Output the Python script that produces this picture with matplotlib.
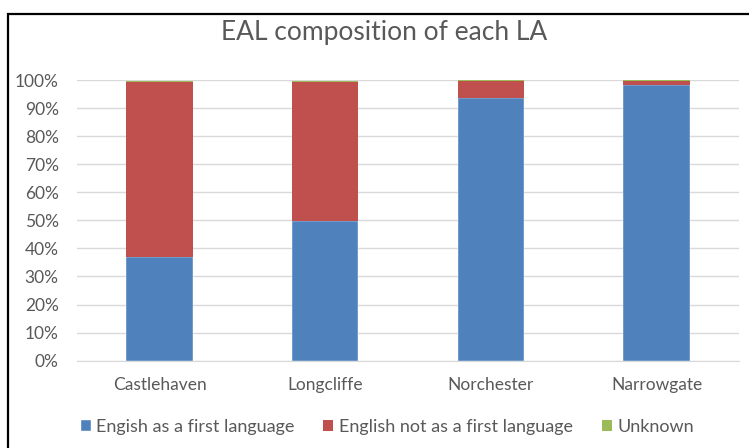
import numpy as np
import matplotlib
matplotlib.use('Agg')
from matplotlib import pyplot as plt
from matplotlib.patches import Rectangle

plt.rcParams['font.family'] = ['Lato', 'DejaVu Sans']

areas = ['Castlehaven', 'Longcliffe', 'Norchester', 'Narrowgate']
first_lang = [36.8, 49.8, 93.7, 98.1]
not_first = [62.5, 49.5, 5.9, 1.6]
unknown = [0.5, 0.5, 0.4, 0.3]
yticks = [0, 10, 20, 30, 40, 50, 60, 70, 80, 90, 100]

blue = '#4F81BD'
red = '#C0504D'
green = '#9BBB59'
grey = '#595959'

fig = plt.figure(figsize=(7.49, 4.48), dpi=100)
ax = fig.add_axes([0.1024, 0.1949, 0.8848, 0.6265])

x = np.arange(len(areas))
w = 0.4
b1 = ax.bar(x, first_lang, w, color=blue, edgecolor='white', linewidth=0.3,
            label='Engish as a first language', zorder=3)
b2 = ax.bar(x, not_first, w, bottom=first_lang, color=red, edgecolor='none',
            label='English not as a first language', zorder=3)
bottom2 = np.array(first_lang) + np.array(not_first)
b3 = ax.bar(x, unknown, w, bottom=bottom2, color=green, edgecolor='none',
            label='Unknown', zorder=3)

ax.set_xlim(-0.5, len(areas) - 0.5)
ax.set_ylim(0, 100)
ax.set_yticks(yticks)
ax.set_yticklabels([str(t) + '%' for t in yticks])
ax.set_xticks(x)
ax.set_xticklabels(areas)
ax.yaxis.grid(True, color='#d9d9d9', linewidth=1.0, zorder=0)
ax.set_axisbelow(True)
for s in ax.spines.values():
    s.set_visible(False)
ax.tick_params(axis='both', length=0, colors=grey, labelsize=12.5)
ax.tick_params(axis='y', pad=13)
ax.tick_params(axis='x', pad=12)
ax.spines['bottom'].set_visible(True)
ax.spines['bottom'].set_color('#d9d9d9')

fig.text(0.513, 0.927, 'EAL composition of each LA', ha='center', va='center',
         fontsize=19, color=grey)

fig.legend(handles=[b1, b2, b3], loc='center', bbox_to_anchor=(0.517, 0.047),
           ncol=3, frameon=False, fontsize=13, handlelength=0.55,
           handleheight=0.55, handletextpad=0.3, columnspacing=1.6,
           labelcolor=grey)

# chart frame
fig.patches.append(Rectangle((8 / 749, -0.05), 1.0, 1 - 14 / 448 + 0.05,
                             transform=fig.transFigure, fill=False,
                             edgecolor='black', linewidth=1.6))

fig.savefig('out.png', dpi=100)
